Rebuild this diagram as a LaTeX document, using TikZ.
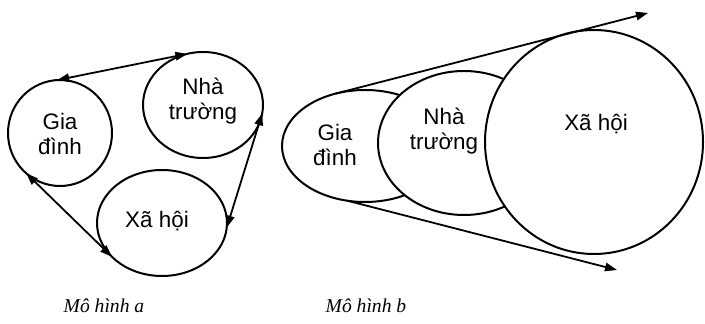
\documentclass[tikz,border=0pt]{standalone}
\usepackage{fontspec}
\setmainfont{Liberation Serif}
\newfontfamily\labelfont{Liberation Sans}
\usetikzlibrary{shapes.geometric,arrows.meta}
\begin{document}
\begin{tikzpicture}[x=0.5pt,y=-0.5pt,
  blob/.style={ellipse,draw,line width=1pt,fill=white,inner sep=0pt,outer sep=0pt},
  lbl/.style={font=\labelfont\fontsize{11.2}{12.3}\selectfont,align=center,inner sep=0pt},
  captext/.style={font=\itshape\fontsize{9.8}{11}\selectfont,inner sep=0pt,anchor=base},
  dbl/.style={line width=0.9pt,{Triangle[length=6pt,width=4.2pt]}-{Triangle[length=6pt,width=4.2pt]}},
  one/.style={line width=0.9pt,-{Triangle[length=6pt,width=4.2pt]}}]
\useasboundingbox (0,0) rectangle (705,324);
% Model a
\node[blob,minimum width=52pt,minimum height=53pt] (ga) at (60,133) {};
\node[blob,minimum width=60pt,minimum height=53pt] (nt) at (203,105) {};
\node[blob,minimum width=65pt,minimum height=53pt] (xh) at (162,223) {};
\node[lbl] (gat) at (60,134) {Gia\\đình};
\node[lbl] (ntt) at (203,101) {Nhà\\trường};
\node[lbl] (xht) at (157,221) {Xã hội};
\draw[dbl] (ga.93) -- (nt.107);
\draw[dbl] (ga.230) -- (xh.214);
\draw[dbl] (nt.352) -- (xh.356);
% Model b
\node[blob,minimum width=83pt,minimum height=56pt] (gb) at (365,146) {};
\node[blob,minimum width=86pt,minimum height=72pt] (nb) at (464,143) {};
\node[blob,minimum width=109pt,minimum height=112pt] (xb) at (594,142) {};
\node[lbl] (gbt) at (335,145) {Gia\\đình};
\node[lbl] (nbt) at (444,131) {Nhà\\trường};
\node[lbl] (xbt) at (596,124) {Xã hội};
\coordinate (ta) at (648,13);
\coordinate (tb) at (617,270);
\draw[one] (gb.119) -- (ta);
\draw[one] (gb.252) -- (tb);
% Captions
\node[captext] (capa) at (104,313) {Mô hình a};
\node[captext] (capb) at (366,313) {Mô hình b};
\end{tikzpicture}
\end{document}
